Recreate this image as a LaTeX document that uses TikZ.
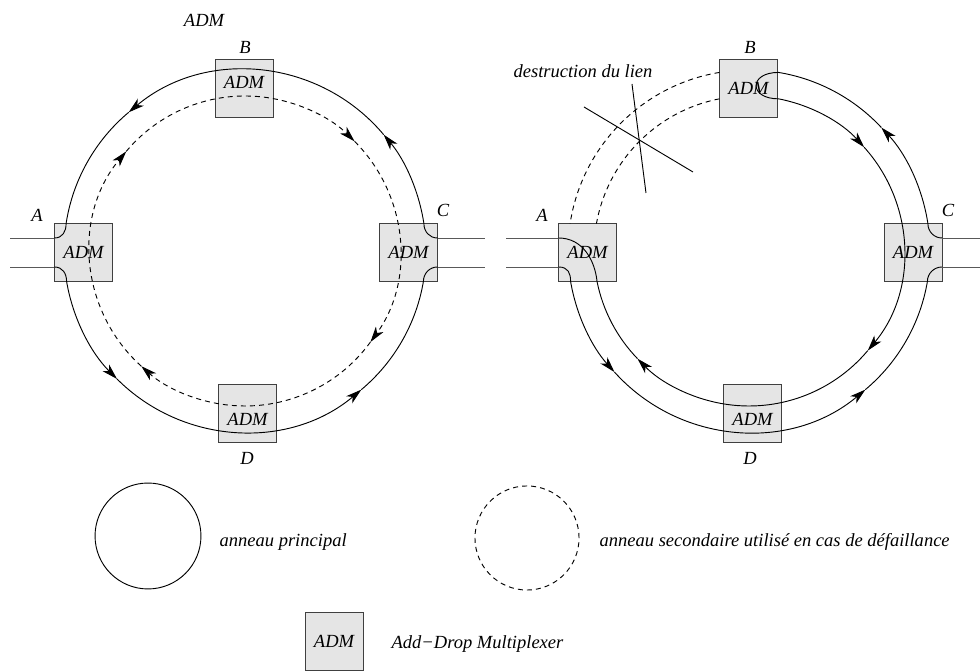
\documentclass[tikz,border=0pt]{standalone}
\usepackage{fontspec}
\setmainfont{Liberation Serif}
\usetikzlibrary{
  arrows.meta,
  calc
}

\begin{document}
\begin{tikzpicture}[x=0.54pt, y=0.54pt, line width=0.5pt,
    every node/.style={font=\itshape},
    >={Stealth[length=8.5pt, width=5pt, inset=2.4pt]},
    adm/.style={draw=black!75, fill=black!10, minimum size=31.32pt,
                inner sep=0pt, outer sep=0pt},
    trib/.style={draw=black!65},
    lost/.style={dash pattern=on 2.7pt off 2.2pt}]
        \useasboundingbox (0,0) rectangle (980,671);
        \coordinate (lO) at (245,420);
        \coordinate (rO) at (749,420);
        % left ring: normal working
        \node[adm, text depth=6pt]  (lB) at (244,583)   {ADM};
        \node[adm] (lA) at (83.5,418.5)  {ADM};
        \node[adm] (lC) at (408.5,418.5) {ADM};
        \node[adm, text height=13pt] (lD) at (247.5,258) {ADM};
        \node at (204,651) {ADM};
        \node at (245,624) {B};
        \node at (37,456)  {A};
        \node at (443,461) {C};
        \node at (247,213) {D};
        \draw[trib] ($(lA.west)+(0,14.5)$)  -- ++(-44,0);
        \draw[trib] ($(lA.west)+(0,-14.5)$) -- ++(-44,0);
        \draw[trib] ($(lC.east)+(0,14.5)$)  -- ++(47,0);
        \draw[trib] ($(lC.east)+(0,-14.5)$) -- ++(47,0);
	\draw[->] ($(lC.east)+(0,14.5)$) .. controls +(-8,0) and +(0,-8) .. ($(lO)+(8.7:181)$)
              arc[start angle=8.7, end angle=40, radius=181];
	\draw[->] ($(lO)+(40:181)$) arc[start angle=40, end angle=130, radius=181];
	\draw ($(lO)+(130:181)$) arc[start angle=130, end angle=171.3, radius=181]
              .. controls +(0,-8) and +(8,0) .. ($(lA.west)+(0,14.5)$);
	\draw[->] ($(lA.west)+(0,-14.5)$) .. controls +(8,0) and +(0,8) .. ($(lO)+(189.7:181)$)
              arc[start angle=189.7, end angle=225, radius=181];
	\draw[->] ($(lO)+(225:181)$) arc[start angle=225, end angle=310, radius=181];
	\draw ($(lO)+(310:181)$) arc[start angle=310, end angle=350.3, radius=181]
              .. controls +(0,8) and +(-8,0) .. ($(lC.east)+(0,-14.5)$);
	\draw[lost, ->] ($(lO)+(228:155)$) arc[start angle=228, end angle=140, radius=155];
	\draw[lost, ->] ($(lO)+(140:155)$) arc[start angle=140, end angle=45, radius=155];
	\draw[lost, ->] ($(lO)+(45:155)$)  arc[start angle=45, end angle=-36, radius=155];
	\draw[lost, ->] ($(lO)+(-36:155)$) arc[start angle=-36, end angle=-132, radius=155];
        % right ring: link A-B cut, loop back in B
        \node[adm] (rB) at (748.5,583)   {ADM};
        \node[adm] (rA) at (587.5,418.5) {ADM};
        \node[adm] (rC) at (913,418.5)   {ADM};
        \node[adm, text height=13pt] (rD) at (752.5,258) {ADM};
        \node at (750,624) {B};
        \node at (542,456) {A};
        \node at (948,461) {C};
        \node at (750,213) {D};
        \node (cut) at (583,600) {destruction du lien};
        \coordinate (cut1a) at (584,564);
        \coordinate (cut1b) at (693,499);
        \coordinate (cut2a) at (632,587);
        \coordinate (cut2b) at (646,478);
        \draw (cut1a) -- (cut1b);
        \draw (cut2a) -- (cut2b);
        \draw[trib] ($(rA.west)+(0,14.5)$)  -- ++(-53,0);
        \draw[trib] ($(rA.west)+(0,-14.5)$) -- ++(-53,0);
        \draw[trib] ($(rC.east)+(0,14.5)$)  -- ++(38,0);
        \draw[trib] ($(rC.east)+(0,-14.5)$) -- ++(38,0);
	\draw[lost] ($(rO)+(99.4:181)$) arc[start angle=99.4, end angle=171.3, radius=181];
	\draw[lost] ($(rO)+(101:155)$)  arc[start angle=101, end angle=169.8, radius=155];
	\draw[->] ($(rA.west)+(0,-14.5)$) .. controls +(10,0) and +(0,8) .. ($(rO)+(189.7:181)$)
              arc[start angle=189.7, end angle=222, radius=181];
	\draw[->] ($(rO)+(222:181)$) arc[start angle=222, end angle=310, radius=181];
	\draw ($(rO)+(310:181)$) arc[start angle=310, end angle=350.3, radius=181]
              .. controls +(0,8) and +(-8,0) .. ($(rC.east)+(0,-14.5)$);
	\draw[->] ($(rC.east)+(0,14.5)$) .. controls +(-8,0) and +(0,-8) .. ($(rO)+(8.7:181)$)
              arc[start angle=8.7, end angle=43, radius=181];
	\draw[->] ($(rO)+(43:181)$) arc[start angle=43, end angle=80.6, radius=181]
              .. controls +(-30,0) and +(-30,0) .. ($(rO)+(79:155)$)
              arc[start angle=79, end angle=42, radius=155];
	\draw[->] ($(rO)+(42:155)$)  arc[start angle=42, end angle=-40, radius=155];
	\draw[->] ($(rO)+(-40:155)$) arc[start angle=-40, end angle=-136, radius=155];
	\draw ($(rO)+(-136:155)$) arc[start angle=-136, end angle=-168.65, radius=155]
              .. controls +(-2,20) and +(25,0) .. ($(rA.west)+(0,14.5)$);
        % legend
        \node[circle, draw, minimum size=57.2pt, inner sep=0pt] (kMain) at (148,135) {};
        \node[anchor=west] (kMainT) at (213,129) {anneau principal};
        \node[circle, draw, lost, minimum size=56.2pt, inner sep=0pt] (kSec) at (527,133) {};
        \node[anchor=west] (kSecT) at (593,129) {anneau secondaire utilisé en cas de défaillance};
        \node[adm] (kAdm) at (334,30) {ADM};
        \node[anchor=west] (kAdmT) at (385,27) {Add−Drop Multiplexer};
\end{tikzpicture}
\end{document}
